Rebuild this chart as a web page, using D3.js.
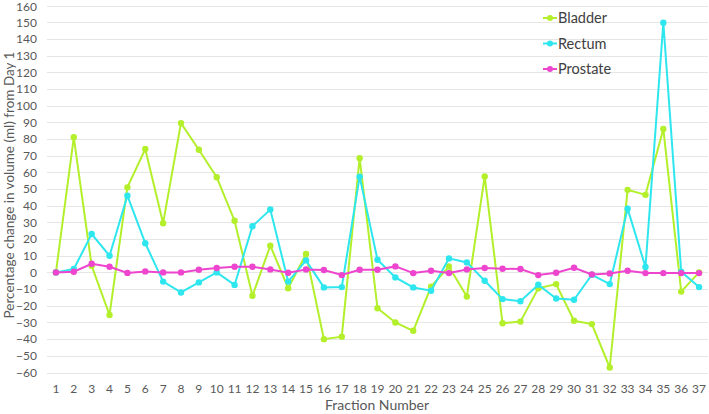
<!DOCTYPE html>
<html><head><meta charset="utf-8">
<script src="https://cdn.jsdelivr.net/npm/d3@7"></script>
<style>body{margin:0;background:#fff}svg{display:block}text{font-family:Lato,"Open Sans",sans-serif}</style>
</head><body><svg id="c" width="709" height="414"></svg>
<script>
const fractions = d3.range(1, 38);
const bladder = [0,81,4,-25.5,51,74,29.5,89.5,73.5,57,31,-14,16,-9.5,11,-40,-38.5,68.5,-21.5,-30,-35,-8.5,3.5,-14.5,57.5,-30.5,-29.5,-9.5,-7,-29,-31,-57,49.5,46.5,86,-11.5,0];
const rectum = [0,2,23,10,46,17.5,-5.5,-12,-6,0,-7.5,27.7,37.7,-5.5,7.2,-9,-8.8,57.4,7.6,-3,-9,-11,8.4,6,-5,-16,-17.3,-7.4,-15.6,-16.4,-1.4,-7,38.2,3.2,149.7,0.4,-8.8];
const prostate = [0,0.4,5.2,3.4,-0.3,0.6,0,0,1.6,2.6,3.4,3.4,1.8,-0.2,1.8,1.4,-1.6,1.6,1.6,3.6,-0.4,1,-0.4,1.8,2.6,2.2,2,-1.6,-0.2,2.8,-1.2,-0.6,1,-0.4,-0.4,-0.4,-0.4];
const seriesNames = ["Bladder","Rectum","Prostate"];
const seriesColors = ["#b3ef2b","#2ee6ee","#ee45cf"];
const yTicks = d3.range(-60, 161, 10);

const series = [bladder, rectum, prostate];
const svg = d3.select("#c");
const m = {l:47, r:1};
const W = 709;
const x = d3.scaleBand().domain(fractions).range([m.l, W - m.r]);
const y = d3.scaleLinear().domain([-60,160]).range([372.5, 5.5]);

// grid
svg.append("g").selectAll("line").data(yTicks).join("line")
  .attr("x1", m.l).attr("x2", W - m.r)
  .attr("y1", d => Math.round(y(d))+0.5).attr("y2", d => Math.round(y(d))+0.5)
  .attr("stroke", "#e6e6e6").attr("stroke-width", 1);

// y axis
const ya = svg.append("g").attr("transform", `translate(${m.l},0)`)
  .call(d3.axisLeft(y).tickValues(yTicks).tickSize(0).tickPadding(10));
ya.select(".domain").remove();
ya.selectAll("text").attr("fill","#595959").style("font-size","12px").style("font-family","Lato, sans-serif");
ya.selectAll(".tick").filter(d => d === 160).select("text").attr("y", 1.5);

// x axis
const xa = svg.append("g").attr("transform", `translate(0,380)`)
  .call(d3.axisBottom(x).tickSize(0).tickPadding(4));
xa.select(".domain").remove();
xa.selectAll("text").attr("fill","#595959").style("font-size","12px").style("font-family","Lato, sans-serif");

// titles
svg.append("text").attr("x", 377).attr("y", 410).attr("text-anchor","middle")
  .attr("fill","#595959").style("font-size","14px").text("Fraction Number");
svg.append("text").attr("transform","translate(14,185) rotate(-90)").attr("text-anchor","middle")
  .attr("fill","#595959").style("font-size","13.5px").text("Percentage change in volume (ml) from Day 1");

// lines
const cx = d => x(d) + x.bandwidth()/2;
series.forEach((vals, i) => {
  const pts = fractions.map((f, j) => [f, vals[j]]);
  const g = svg.append("g");
  g.append("path").datum(pts)
    .attr("d", d3.line().x(d => cx(d[0])).y(d => y(d[1])))
    .attr("fill","none").attr("stroke", seriesColors[i]).attr("stroke-width", 2);
  g.selectAll("circle").data(pts).join("circle")
    .attr("cx", d => cx(d[0])).attr("cy", d => y(d[1])).attr("r", 3.2)
    .attr("fill", seriesColors[i]);
});

// legend
const lg = svg.append("g");
seriesNames.forEach((n, i) => {
  const yy = 18 + i*25.5;
  lg.append("line").attr("x1",543).attr("x2",557).attr("y1",yy).attr("y2",yy)
    .attr("stroke",seriesColors[i]).attr("stroke-width",2);
  lg.append("circle").attr("cx",550).attr("cy",yy).attr("r",3).attr("fill",seriesColors[i]);
  lg.append("text").attr("x",558).attr("y",yy+5).attr("fill","#404040")
    .style("font-size","14.5px").text(n);
});
</script></body></html>
